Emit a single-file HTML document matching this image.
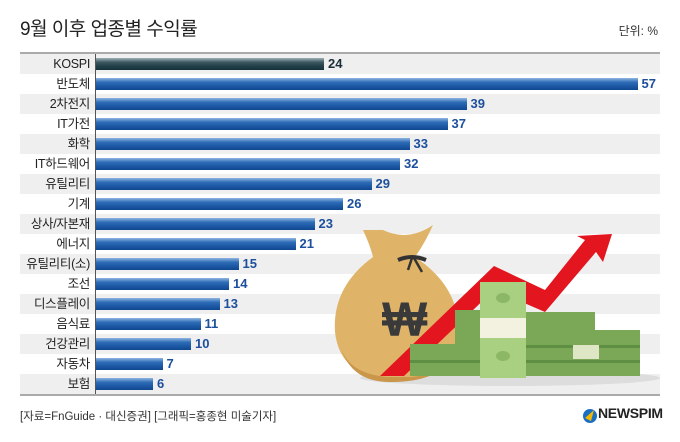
<!DOCTYPE html><html><head><meta charset="utf-8"><style>
body{margin:0;width:680px;height:442px;background:#fff;font-family:"Liberation Sans","Noto Sans CJK KR",sans-serif;position:relative;overflow:hidden}
.t{position:absolute;left:20px;top:14px;font-size:19px;color:#222;letter-spacing:-0.5px}
.u{position:absolute;right:22px;top:22px;font-size:12px;color:#333}
.row{position:absolute;left:20px;width:640px;height:20px}
.g{background:#efefef}
.lab{position:absolute;right:570px;width:100px;text-align:right;font-size:12.5px;color:#222;line-height:20px;letter-spacing:-0.3px}
.bar{position:absolute;left:76px;top:4px;height:12px;background:linear-gradient(#8fb6e0,#2f6db7 35%,#1e5aa6 65%,#0f4690)}
.k{background:linear-gradient(#9fb2b8,#3d5860 35%,#24414a 65%,#14303a)}
.v{position:absolute;top:2px;font-size:13px;font-weight:bold;color:#1c4f9c;line-height:16px}
.src{position:absolute;left:20px;top:408px;font-size:11.5px;color:#333}
.logo{position:absolute;left:598px;top:405px;font-size:14px;font-weight:bold;color:#222;letter-spacing:-0.3px}
</style></head><body>
<div class="t">9월 이후 업종별 수익률</div><div class="u">단위: %</div>
<div style="position:absolute;left:20px;top:52px;width:640px;height:2px;background:#aaa"></div>
<div style="position:absolute;left:20px;top:394px;width:640px;height:2px;background:#aaa"></div>
<div id="rows"></div>
<svg style="position:absolute;left:0;top:0" width="680" height="442">
<ellipse cx="510" cy="378" rx="150" ry="8" fill="#ddd"/>
<path d="M383 230 q25 12 50 -5 q-8 18 -18 32 q45 30 43 75 q-3 48 -50 45 h-18 q-50 0 -55 -45 q-3 -45 38 -75 q-3 -12 -10 -27z" fill="#e0b468"/>
<path d="M340 345 q8 30 50 32 h20 q30 -2 40 -20 q-10 25 -60 25 q-40 0 -50 -37z" fill="#c9964a"/>
<path d="M398 260 q14 -6 28 0" stroke="#333" stroke-width="4" fill="none"/>
<path d="M412 258 l-4 12 M414 258 l8 14" stroke="#333" stroke-width="2.5"/>
<text x="382" y="336" font-size="48" font-weight="bold" fill="#3a3a3a" font-family="Liberation Sans">₩</text>
<polygon points="380,376 494,266 545,290 585,240 577,236 612,234 603,262 596,252 545,312 494,290 404,376" fill="#e3161f"/>
<g fill="#7aa857"><rect x="410" y="344" width="105" height="32"/><rect x="455" y="310" width="60" height="34"/><rect x="515" y="330" width="125" height="46"/><rect x="520" y="312" width="75" height="18"/></g>
<g fill="#5f8f42"><rect x="410" y="360" width="230" height="3"/><rect x="515" y="345" width="125" height="3"/></g>
<g fill="#a9cf80"><rect x="480" y="282" width="46" height="96"/></g>
<ellipse cx="503" cy="298" rx="7" ry="5" fill="#8cb865"/><ellipse cx="503" cy="356" rx="7" ry="5" fill="#8cb865"/>
<rect x="480" y="318" width="46" height="20" fill="#f3f1e0"/>
<rect x="573" y="345" width="26" height="14" fill="#dfe6c6"/>
<circle cx="590" cy="416" r="7" fill="#1a6fc2"/><path d="M585 418 l9 -8 l-3 11z" fill="#f2b800"/>
</svg>
<div class="src">[자료=FnGuide · 대신증권] [그래픽=홍종현 미술기자]</div>
<div class="logo">NEWSPIM</div>
<script>
var d=[["KOSPI",24],["반도체",57],["2차전지",39],["IT가전",37],["화학",33],["IT하드웨어",32],["유틸리티",29],["기계",26],["상사/자본재",23],["에너지",21],["유틸리티(소)",15],["조선",14],["디스플레이",13],["음식료",11],["건강관리",10],["자동차",7],["보험",6]];
var h="";d.forEach(function(r,i){var w=r[1]*9.5;h+='<div class="row'+(i%2==0?' g':'')+'" style="top:'+(54+i*20)+'px"><div class="lab" style="left:-30px">'+r[0]+'</div><div class="bar'+(i==0?' k':'')+'" style="width:'+w+'px"></div><div class="v" style="left:'+(80+w)+'px;'+(i==0?'color:#1a2e38':'')+'">'+r[1]+'</div></div>';});
document.getElementById("rows").innerHTML=h;
</script>
<div style="position:absolute;left:95px;top:54px;width:1px;height:340px;background:#555"></div>
</body></html>
